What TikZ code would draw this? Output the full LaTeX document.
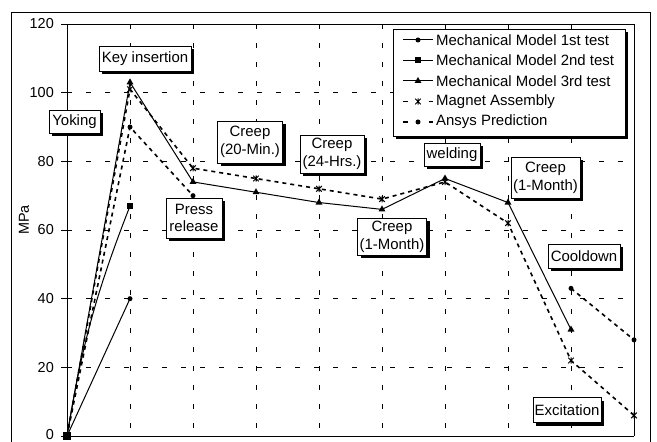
\documentclass[tikz,border=0pt]{standalone}
\usepackage{fontspec}
\setmainfont{Liberation Sans}
\usetikzlibrary{shapes.geometric,shadows,calc}
\begin{document}
\begin{tikzpicture}[x=1bp,y=-1bp,
  lab/.style={draw=black, line width=0.8bp, fill=white, align=center, inner sep=1bp,
    font=\fontsize{15}{17.5}\selectfont,
    drop shadow={shadow xshift=3bp, shadow yshift=-3bp, opacity=1, fill=black}},
  gridln/.style={line width=0.8bp, dash pattern=on 5bp off 14bp},
  solidser/.style={line width=1bp},
  dashser/.style={line width=1.6bp, dash pattern=on 4bp off 4bp},
  mcirc/.style={circle, fill=black, minimum size=5bp, inner sep=0pt},
  msq/.style={rectangle, fill=black, minimum size=6bp, inner sep=0pt},
  mtri/.style={regular polygon, regular polygon sides=3, fill=black, minimum size=8bp, inner sep=0pt},
  mstar/.pic={\draw[line width=1bp] (-2.8,-2.8)--(2.8,2.8) (-2.8,2.8)--(2.8,-2.8) (0,-3.2)--(0,3.2);},
  tick/.style={font=\fontsize{14.5}{16}\selectfont, anchor=east, inner sep=0pt},
  legtxt/.style={font=\fontsize{15}{17}\selectfont, anchor=west, inner sep=0pt}
]
\path[use as bounding box] (0,0) rectangle (657,442);
\clip (0,0) rectangle (657,442);
\fill[white] (0,0) rectangle (657,442);
% outer frame
\draw[line width=0.9bp] (11,12) rectangle (650,470);

% grid
\foreach \v in {20,40,60,80,100}
  \draw[gridln] (67,{436-3.4333*\v}) -- (634,{436-3.4333*\v});
\foreach \i in {1,...,8}
  \draw[gridln] ({67+63*\i},24) -- ({67+63*\i},436);

% plot area border and axes
\draw[line width=0.9bp] (67,24) -- (634,24) -- (634,436);
\draw[line width=1bp] (67,24) -- (67,436) -- (634,436);
\foreach \v in {0,20,40,60,80,100,120}
  \draw[line width=0.9bp] (61,{436-3.4333*\v}) -- (67,{436-3.4333*\v});
\foreach \v in {20,40,60,80,100,120}
  \node[tick] (t\v) at (54,{436-3.4333*\v}) {\v};
\node[tick] (t0) at (54,434.8) {0};
\node[rotate=90, font=\fontsize{14.5}{16}\selectfont] (ylab) at (24,220) {MPa};

% data coordinates
\foreach \i/\v in {0/0,1/40} \coordinate (a\i) at ({67+63*\i},{436-3.4333*\v});
\foreach \i/\v in {0/0,1/67} \coordinate (b\i) at ({67+63*\i},{436-3.4333*\v});
\foreach \i/\v in {0/0,1/103,2/74,3/71,4/68,5/66,6/75,7/68,8/31}
  \coordinate (c\i) at ({67+63*\i},{436-3.4333*\v});
\foreach \i/\v in {0/0,1/101,2/78,3/75,4/72,5/69,6/74,7/62,8/22,9/6}
  \coordinate (m\i) at ({67+63*\i},{436-3.4333*\v});
\foreach \i/\v in {0/0,1/90,2/70,8/43,9/28}
  \coordinate (p\i) at ({67+63*\i},{436-3.4333*\v});

% series lines
\draw[solidser] (a0) -- (a1);
\draw[solidser] (b0) to[bend left=6] (b1);
\draw[solidser] (c0) -- (c1) -- (c2) -- (c3) -- (c4) -- (c5) -- (c6) -- (c7) -- (c8);
\draw[dashser] (m0) -- (m1) -- (m2) -- (m3) -- (m4) -- (m5) -- (m6) -- (m7) -- (m8) -- (m9);
\draw[dashser] (p0) -- (p1) -- (p2);
\draw[dashser] (p8) -- (p9);

% markers
\foreach \n in {a0,a1} \node[mcirc] at (\n) {};
\foreach \n in {b0,b1} \node[msq] at (\n) {};
\foreach \n in {c0,c1,c2,c3,c4,c5,c6,c7,c8} \node[mtri] at (\n) {};
\foreach \n in {m0,m1,m2,m3,m4,m5,m6,m7,m8,m9} \pic at (\n) {mstar};
\foreach \n in {p0,p1,p2,p8,p9} \node[mcirc] at (\n) {};
\node[msq, minimum size=8bp] at (a0) {};

% labels
\node[lab, minimum width=92bp, minimum height=25bp] (keyins) at (145,59) {Key insertion};
\node[lab, minimum width=51bp, minimum height=23bp] (yoking) at (74.5,121.5) {Yoking};
\node[lab, minimum width=56bp, minimum height=40bp] (press) at (194,218) {Press\\release};
\node[lab, minimum width=65bp, minimum height=42bp] (creepa) at (250,142) {Creep\\(20-Min.)};
\node[lab, minimum width=64bp, minimum height=38bp] (creepb) at (332,154) {Creep\\(24-Hrs.)};
\node[lab, minimum width=56bp, minimum height=23bp] (weld) at (452,155) {welding};
\node[lab, minimum width=69bp, minimum height=41bp] (creepc) at (545.5,178) {Creep\\(1-Month)};
\node[lab, minimum width=69bp, minimum height=37bp] (creepd) at (392,236.7) {Creep\\(1-Month)};
\node[lab, minimum width=72bp, minimum height=24bp] (cool) at (584,256) {Cooldown};
\node[lab, minimum width=68bp, minimum height=25bp] (excit) at (567,410) {Excitation};

% legend
\node[draw=black, line width=0.8bp, fill=white, minimum width=232bp, minimum height=107bp, inner sep=0pt,
  drop shadow={shadow xshift=3bp, shadow yshift=-3bp, opacity=1, fill=black}] (legend) at (509,82.5) {};
\coordinate (la1) at (402.7,40);   \coordinate (lb1) at (433.3,40);
\coordinate (la2) at (402.7,60.5); \coordinate (lb2) at (433.3,60.5);
\coordinate (la3) at (402.7,81);   \coordinate (lb3) at (433.3,81);
\coordinate (la4) at (402.7,101.5);\coordinate (lb4) at (433.3,101.5);
\coordinate (la5) at (402.7,122);  \coordinate (lb5) at (433.3,122);
\draw[solidser] (la1) -- (lb1); \node[mcirc] at ($(la1)!0.5!(lb1)$) {};
\draw[solidser] (la2) -- (lb2); \node[msq] at ($(la2)!0.5!(lb2)$) {};
\draw[solidser] (la3) -- (lb3); \node[mtri] at ($(la3)!0.5!(lb3)$) {};
\draw[dashser, dash pattern=on 5bp off 21bp] (la4) -- (lb4); \pic at ($(la4)!0.5!(lb4)$) {mstar};
\draw[dashser, dash pattern=on 5bp off 21bp] (la5) -- (lb5); \node[mcirc] at ($(la5)!0.5!(lb5)$) {};
\node[legtxt] (l1) at (436,40) {Mechanical Model 1st test};
\node[legtxt] (l2) at (436,60.5) {Mechanical Model 2nd test};
\node[legtxt] (l3) at (436,81) {Mechanical Model 3rd test};
\node[legtxt] (l4) at (436,101.5) {Magnet Assembly};
\node[legtxt] (l5) at (436,122) {Ansys Prediction};
\end{tikzpicture}
\end{document}
